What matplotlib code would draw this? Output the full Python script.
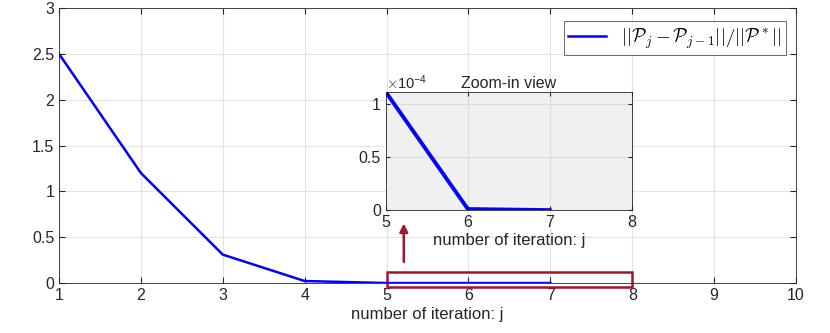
import matplotlib
matplotlib.rcParams['font.family'] = ['Liberation Sans', 'DejaVu Sans']
matplotlib.rcParams['mathtext.fontset'] = 'cm'
import matplotlib.pyplot as plt
import matplotlib.ticker as mticker
from matplotlib.patches import Rectangle, FancyArrowPatch

iterations = [1, 2, 3, 4, 5, 6, 7]
rel_change = [2.5, 1.2, 0.31, 0.022, 1.11e-4, 1e-6, 0.0]

zoom_iter = [5, 6, 7]
zoom_change = [1.11e-4, 1e-6, 0.0]

LINE = '#0000ff'
BOX = '#A2142F'
GRID = '#e3e3e3'
TXT = '#262626'

fig = plt.figure(figsize=(8.3, 3.33), dpi=100)
ax = fig.add_axes([0.0711, 0.150, 0.888, 0.826])
ax.plot(iterations, rel_change, color=LINE, lw=1.8,
        label=r'$||\mathcal{P}_j - \mathcal{P}_{j-1}||/||\mathcal{P}^*||$')
ax.set_xlim(1, 10)
ax.set_ylim(0, 3)
ax.set_xticks(range(1, 11))
ax.set_yticks([0, 0.5, 1, 1.5, 2, 2.5, 3])
ax.yaxis.set_major_formatter(mticker.FormatStrFormatter('%g'))
ax.grid(color=GRID, lw=0.8)
ax.set_axisbelow(True)
ax.tick_params(direction='in', top=True, right=True, labelsize=11.5, colors=TXT, length=4)
for s in ax.spines.values():
    s.set_color(TXT)
    s.set_linewidth(0.6)
ax.set_xlabel('number of iteration: j', fontsize=12, color=TXT, labelpad=3)
leg = ax.legend(loc='upper right', fontsize=13.5, fancybox=False, edgecolor=TXT,
                handlelength=2.0, borderpad=0.25, bbox_to_anchor=(0.999, 0.985))
leg.get_frame().set_linewidth(0.6)

# highlight box around the zoomed region
ax.add_patch(Rectangle((5, -0.044), 3, 0.164, fill=False, edgecolor=BOX, lw=1.8, clip_on=False))
ax.add_patch(FancyArrowPatch((5.21, 0.2), (5.21, 0.68), arrowstyle='-|>', mutation_scale=12,
                             color=BOX, lw=1.8))

ins = fig.add_axes([0.465, 0.369, 0.296, 0.354])
ins.set_facecolor('#f0f0f0')
ins.plot(zoom_iter, zoom_change, color=LINE, lw=2.8)
ins.set_xlim(5, 8)
ins.set_ylim(0, 1.11e-4)
ins.set_xticks([5, 6, 7, 8])
ins.set_yticks([0, 0.5e-4, 1e-4])
ins.yaxis.set_major_formatter(mticker.FuncFormatter(lambda v, p: '%g' % (v * 1e4)))
ins.grid(color='#dcdcdc', lw=0.8)
ins.set_axisbelow(True)
ins.tick_params(direction='in', top=True, right=True, labelsize=11.5, colors=TXT, length=3)
for s in ins.spines.values():
    s.set_color(TXT)
    s.set_linewidth(0.6)
ins.set_xlabel('number of iteration: j', fontsize=12, color=TXT, labelpad=2)
ins.set_title('Zoom-in view', fontsize=11.5, color=TXT, pad=3)
ins.text(0.0, 1.0, r'$\times\mathregular{10^{-4}}$', transform=ins.transAxes, fontsize=10.5,
         color=TXT, va='bottom', ha='left')

fig.savefig('out.png', dpi=100)
